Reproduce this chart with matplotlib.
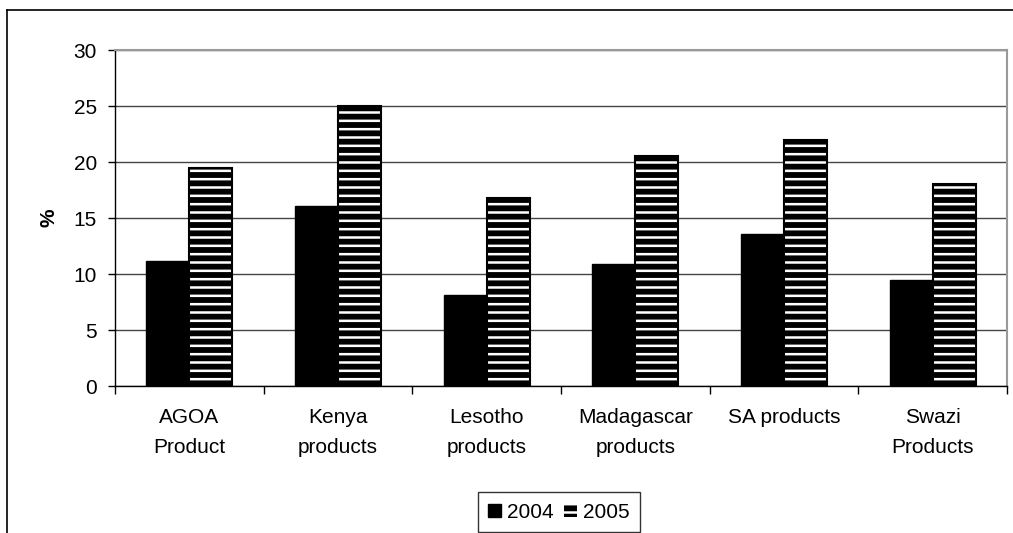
import matplotlib
matplotlib.use("Agg")
import matplotlib.pyplot as plt
import numpy as np
from matplotlib.lines import Line2D
from matplotlib.patches import Patch

categories = ["AGOA\nProduct", "Kenya\nproducts", "Lesotho\nproducts",
              "Madagascar\nproducts", "SA products", "Swazi\nProducts"]
series_names = ["2004", "2005"]
values_2004 = [11.2, 16.1, 8.1, 10.9, 13.6, 9.5]
values_2005 = [19.5, 25.0, 16.8, 20.5, 22.0, 18.0]
y_ticks = [0, 5, 10, 15, 20, 25, 30]

plt.rcParams['font.family'] = ['Liberation Sans', 'DejaVu Sans']
plt.rcParams['hatch.linewidth'] = 1.8
plt.rcParams['hatch.color'] = 'white'

fig = plt.figure(figsize=(10.13, 5.33), dpi=100)
ax = fig.add_axes([115/1013, 1-386/533, (1007-115)/1013, (386-50)/533])

x = np.arange(len(categories))
w = 0.29
ax.bar(x - w/2, values_2004, width=w, color='black', edgecolor='black', linewidth=1, zorder=3)
# hatched bars: black face with white horizontal stripes, then black outline
ax.bar(x + w/2, values_2005, width=w, color='black', edgecolor='white', hatch='--', linewidth=0, zorder=3)
ax.bar(x + w/2, values_2005, width=w, facecolor='none', edgecolor='black', linewidth=1.5, zorder=4)

ax.set_xlim(-0.5, len(categories) - 0.5)
ax.set_ylim(0, 30)
ax.set_yticks(y_ticks)
ax.set_yticklabels([str(t) for t in y_ticks], fontsize=15)
ax.tick_params(axis='y', direction='out', length=5, width=1, pad=8)

ax.set_xticks(x)
ax.set_xticklabels(categories, fontsize=15, linespacing=1.7)
ax.tick_params(axis='x', length=0, pad=16)
ax.set_xticks(np.arange(len(categories) + 1) - 0.5, minor=True)
ax.tick_params(axis='x', which='minor', direction='out', length=6, width=1)

ax.yaxis.grid(True, color='#444444', linewidth=1, zorder=0)
ax.set_axisbelow(True)
for s in ['top', 'right']:
    ax.spines[s].set_color('#999999')
    ax.spines[s].set_linewidth(1.5)
for s in ['left', 'bottom']:
    ax.spines[s].set_color('black')
    ax.spines[s].set_linewidth(1)

ax.set_ylabel('%', fontsize=15, fontweight='bold', labelpad=11)

handles = [Patch(facecolor='black', edgecolor='black'),
           Patch(facecolor='black', edgecolor='white', hatch='--', linewidth=0)]
leg = fig.legend(handles, series_names, loc='upper center',
                 bbox_to_anchor=(559/1013, 1-482/533), ncol=2, fontsize=15,
                 frameon=True, fancybox=False, edgecolor='black',
                 handlelength=0.6, handleheight=0.6, handletextpad=0.3,
                 columnspacing=0.5, borderpad=0.5)
leg.get_frame().set_linewidth(1)

# outer chart frame (left and top edges visible)
fig.add_artist(Line2D([7/1013, 7/1013], [0, 1-10/533], color='black', linewidth=1.2, transform=fig.transFigure))
fig.add_artist(Line2D([7/1013, 1], [1-10/533, 1-10/533], color='black', linewidth=1.2, transform=fig.transFigure))

fig.savefig('out.png', dpi=100)
